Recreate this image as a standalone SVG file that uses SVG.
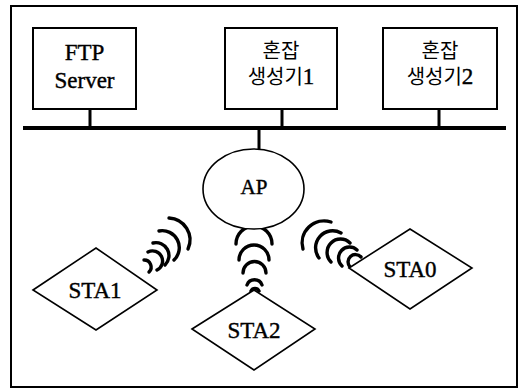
<svg xmlns="http://www.w3.org/2000/svg" width="523" height="389" viewBox="0 0 523 389">
<style>
.box{fill:#fff;stroke:#000;stroke-width:2}
.shape{fill:#fff;stroke:#000;stroke-width:1.6}
.wire{stroke:#000;stroke-width:3;fill:none}
.wave{stroke:#000;stroke-width:3.4;fill:none;stroke-linecap:round}
.lat{font-family:"Liberation Serif","Noto Sans CJK KR",serif;font-size:23px;fill:#000;stroke:#000;stroke-width:0.4;text-anchor:middle}
.kr{font-family:"Liberation Serif","Noto Sans CJK KR",serif;font-size:20px;fill:#000;text-anchor:middle}
.dig{font-size:23px;stroke:#000;stroke-width:0.4}
</style>
<rect x="0" y="0" width="523" height="389" fill="#fff"/>
<rect x="11" y="6" width="506" height="381" fill="none" stroke="#000" stroke-width="2"/>
<g id="connectors">
<line x1="23" y1="128" x2="506" y2="128" stroke="#000" stroke-width="4"/>
<line class="wire" x1="90" y1="109" x2="90" y2="128"/>
<line class="wire" x1="282" y1="109" x2="282" y2="128"/>
<line class="wire" x1="439" y1="109" x2="439" y2="128"/>
<line class="wire" x1="259" y1="128" x2="259" y2="149"/>
<g id="waves-sta1">
<path class="wave" d="M169,218 A22,22 0 0 1 188,249"/>
<path class="wave" d="M159,231 A17,17 0 0 1 174,260"/>
<path class="wave" d="M153,243 A13,13 0 0 1 165,265"/>
<path class="wave" d="M148,252 A10,10 0 0 1 157,270"/>
<path class="wave" d="M144,260 A7,7 0 0 1 149,272"/>
</g>
<g id="waves-sta2">
<path class="wave" d="M236,244 A18,18 0 0 1 272,244"/>
<path class="wave" d="M239,260 A15,15 0 0 1 269,260"/>
<path class="wave" d="M243,273 A11.5,11.5 0 0 1 266,273"/>
<path class="wave" d="M247,285 A8,8 0 0 1 262,285"/>
<path class="wave" d="M251,291 A4.5,4.5 0 0 1 259,291"/>
</g>
<g id="waves-sta0">
<path class="wave" d="M331,222 A22,22 0 0 0 303,249"/>
<path class="wave" d="M341,233 A17,17 0 0 0 319,258"/>
<path class="wave" d="M350,243 A13,13 0 0 0 331,262"/>
<path class="wave" d="M357,250 A9,9 0 0 0 342,266"/>
<path class="wave" d="M361,257 A6,6 0 0 0 350,267"/>
</g>
</g>
<g id="ftp">
<rect class="box" x="33" y="28" width="103" height="81"/>
<text class="lat" x="84.5" y="60">FTP</text>
<text class="lat" x="84.5" y="88">Server</text>
</g>
<g id="gen1">
<rect class="box" x="225" y="28" width="112" height="81"/>
<text class="kr" x="281" y="58">혼잡</text>
<text class="kr" x="281" y="84">생성기<tspan class="dig">1</tspan></text>
</g>
<g id="gen2">
<rect class="box" x="383" y="28" width="114" height="81"/>
<text class="kr" x="440" y="58">혼잡</text>
<text class="kr" x="440" y="84">생성기<tspan class="dig">2</tspan></text>
</g>
<g id="ap">
<ellipse class="shape" cx="253.5" cy="189" rx="50.5" ry="40"/>
<text class="lat" x="254" y="194" style="font-size:21px">AP</text>
</g>
<g id="sta1">
<polygon class="shape" points="33,290 96,248 157,290 96,330"/>
<text class="lat" x="95" y="298">STA1</text>
</g>
<g id="sta2">
<polygon class="shape" points="192,329 254,290 315,329 254,370"/>
<text class="lat" x="254" y="338">STA2</text>
</g>
<g id="sta0">
<polygon class="shape" points="349,268 410,229 472,268 410,309"/>
<text class="lat" x="410" y="277">STA0</text>
</g>
</svg>
